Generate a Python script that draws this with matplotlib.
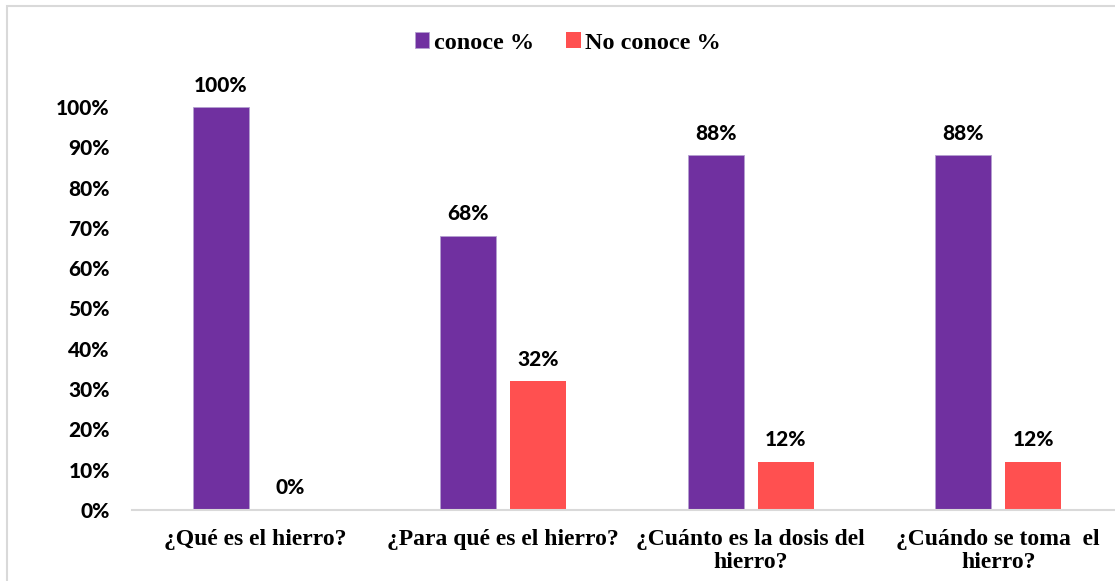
import matplotlib
matplotlib.use("Agg")
import matplotlib.pyplot as plt
from matplotlib.patches import Rectangle
import numpy as np

categories = ["¿Qué es el hierro?", "¿Para qué es el hierro?",
              "¿Cuánto es la dosis del\nhierro?", "¿Cuándo se toma  el\nhierro?"]
conoce = [100, 68, 88, 88]
no_conoce = [0, 32, 12, 12]
series_names = ["conoce %", "No conoce %"]
colors = ["#7030A0", "#FF5050"]

W, H = 1115, 581
fig = plt.figure(figsize=(W / 100, H / 100), dpi=100)

# outer chart border (cropped on right / bottom like the source)
fig.patches.append(Rectangle((7 / W, -0.05), 1.2, 1 - 6 / H + 0.05,
                             transform=fig.transFigure, fill=False,
                             edgecolor="#D9D9D9", linewidth=1.5))

left, right = 132, 1122
bottom, top = 510, 107
ax = fig.add_axes([left / W, 1 - bottom / H, (right - left) / W, (bottom - top) / H])

x = np.arange(len(categories))
bw = 0.226
off = 0.141
b1 = ax.bar(x - off, conoce, bw, color=colors[0], label=series_names[0],
            edgecolor="#B4A0D0", linewidth=0.6)
b2 = ax.bar(x + off, no_conoce, bw, color=colors[1], label=series_names[1])

num_font = dict(fontsize=15, fontweight=900, family="Lato")

for bars, vals in ((b1, conoce), (b2, no_conoce)):
    for b, v in zip(bars, vals):
        ax.annotate(f"{v}%", (b.get_x() + b.get_width() / 2, v),
                    xytext=(0, 9), textcoords="offset points",
                    ha="center", va="bottom", clip_on=False, **num_font)

ax.set_xlim(-0.5, len(categories) - 0.5)
ax.set_ylim(0, 100)
ax.set_yticks(np.arange(0, 101, 10))
ax.set_yticklabels([f"{v}%" for v in range(0, 101, 10)], **num_font)
ax.set_xticks(x)
ax.set_xticklabels(categories, fontsize=17, fontweight="bold",
                   family="Liberation Serif", linespacing=1.1)
ax.tick_params(axis="y", length=0, pad=16)
ax.tick_params(axis="x", length=0, pad=14)
for s in ("top", "right", "left"):
    ax.spines[s].set_visible(False)
ax.spines["bottom"].set_color("#D9D9D9")
ax.spines["bottom"].set_linewidth(1.5)

fig.legend(handles=[b1, b2], loc="center", bbox_to_anchor=(568 / W, 1 - 43 / H),
           ncol=2, frameon=False, handlelength=0.6, handleheight=0.6,
           handletextpad=0.2, columnspacing=1.3,
           prop={"family": "Liberation Serif", "weight": "bold", "size": 17.5})

fig.savefig("out.png", dpi=100)
